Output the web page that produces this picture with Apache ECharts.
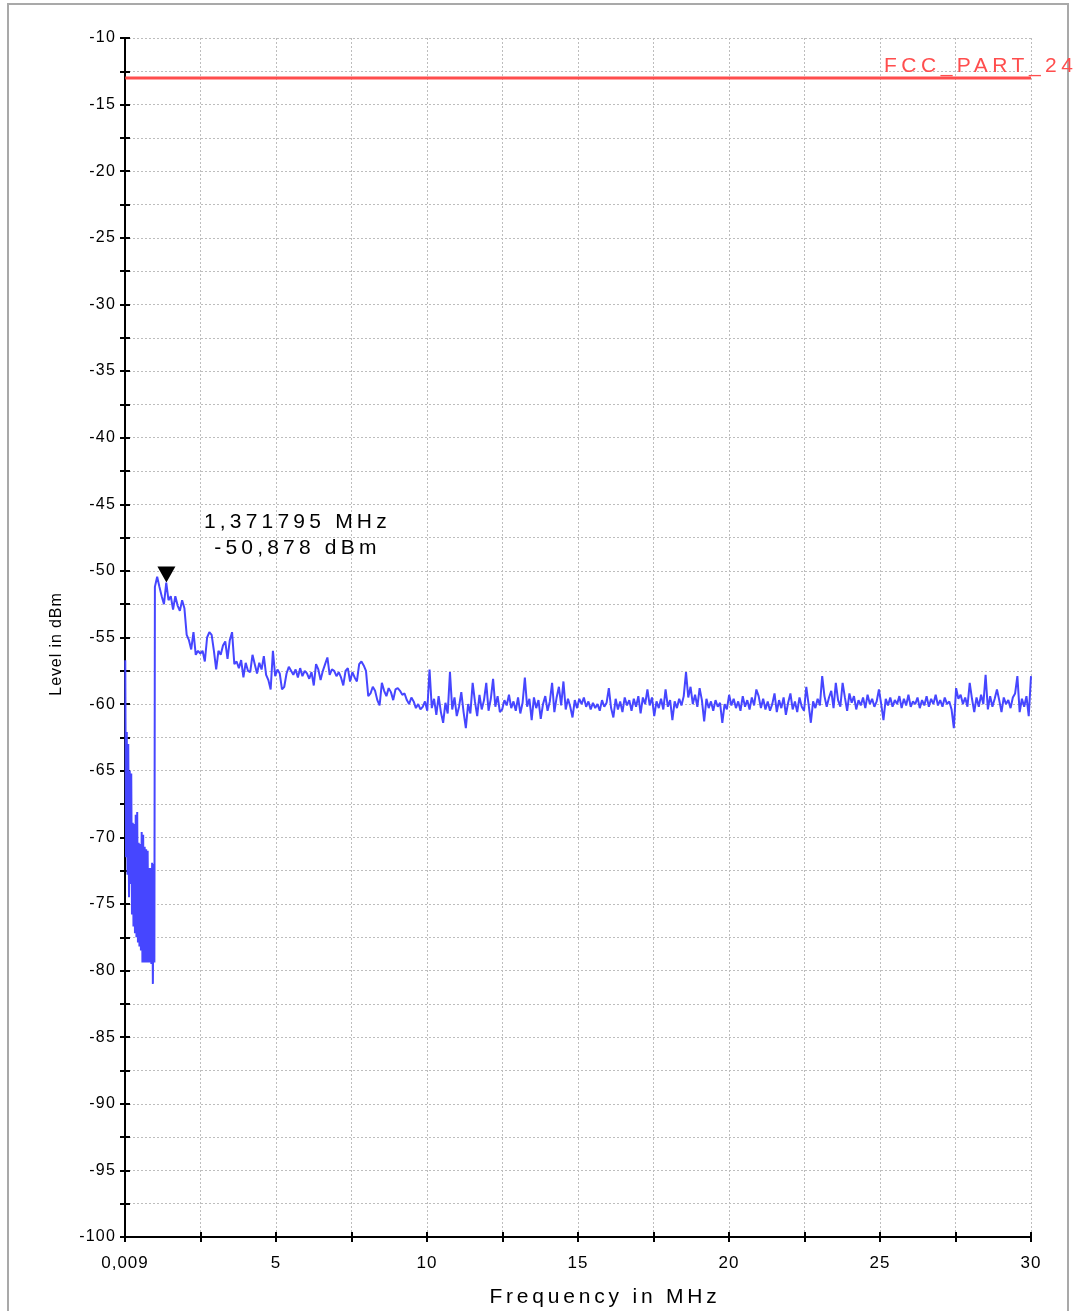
<!DOCTYPE html>
<html>
<head>
<meta charset="utf-8">
<script src="https://cdn.jsdelivr.net/npm/echarts@6/dist/echarts.min.js"></script>
<style>
html,body{margin:0;padding:0;background:#fff;}
#chart{width:1073px;height:1311px;}
</style>
</head>
<body>
<div id="chart"></div>
<script>
// ---------------- DATA ----------------
const X_MIN = 0, X_MAX = 30, X_INTERVAL = 2.5;
const Y_MIN = -100, Y_MAX = -10, Y_INTERVAL = 2.5;
const X_LABEL_VALUES = [0, 5, 10, 15, 20, 25, 30];
const X_TICK_LABELS = ['0,009', '5', '10', '15', '20', '25', '30'];
const X_TITLE = 'Frequency in MHz';
const Y_TITLE = 'Level in dBm';

const LIMIT_NAME = 'FCC_PART_24';
const LIMIT_LEVEL = -13;
const LIMIT_FREQS = [0.009, 30];

const MARKER_FREQ = 1.371795;   // MHz
const MARKER_LEVEL = -50.878;   // dBm

// sweep below 1 MHz (start, step in MHz)
const LOW_BAND_START = 0.009;
const LOW_BAND_STEP = 0.0247;
const LOW_BAND_LEVELS = [
  -56.7, -71.5, -62.1, -72.8, -63.0, -74.5, -65.0, -73.5, -65.2, -75.8,
  -68.9, -76.7, -69.0, -77.2, -68.3, -77.5, -68.1, -77.9, -70.4, -78.2,
  -70.5, -78.5, -69.6, -79.4, -69.8, -79.4, -70.7, -79.4, -70.9, -79.4,
  -71.0, -79.4, -72.3, -79.4, -72.3, -79.5, -71.9, -81.0, -72.0, -79.4
];

// sweep 0.99 .. 30 MHz (evenly spaced sweep points)
const MAIN_BAND_START = 0.99;
const MAIN_BAND_STOP = 30;
const MAIN_BAND_LEVELS = [
  -51.2, -50.44, -51.2, -51.9, -52.5, -50.88, -52.2, -51.9, -52.9, -51.9,
  -52.6, -53.0, -52.2, -52.8, -54.8, -55.2, -55.9, -54.6, -56.3, -56.0,
  -56.2, -56.0, -56.8, -55.0, -54.6, -54.8, -56.0, -57.4, -56.0, -56.3,
  -55.6, -55.3, -56.6, -55.2, -54.6, -57.0, -56.8, -57.3, -56.7, -58.0,
  -56.9, -57.5, -57.6, -56.3, -57.0, -57.7, -56.9, -57.4, -56.4, -57.8,
  -58.2, -58.9, -56.0, -57.9, -57.4, -57.7, -58.9, -58.7, -57.7, -57.2,
  -57.5, -57.8, -57.4, -58.0, -57.3, -57.9, -57.5, -57.7, -58.1, -57.6,
  -58.6, -57.0, -57.4, -58.2, -57.5, -57.0, -56.5, -57.8, -57.4, -57.5,
  -57.9, -57.6, -58.0, -58.6, -57.5, -57.3, -58.3, -57.6, -58.0, -58.3,
  -57.0, -56.8, -57.1, -57.5, -59.4, -59.2, -58.7, -59.0, -59.7, -60.1,
  -58.4, -59.0, -59.4, -58.8, -59.1, -59.7, -58.9, -58.8, -59.0, -59.3,
  -59.2, -59.7, -60.0, -59.5, -59.8, -60.3, -60.0, -60.4,
  -60.2, -59.8, -60.5, -57.4, -60.3, -59.6, -60.8, -59.4, -60.6, -61.4,
  -59.9, -60.7, -57.6, -60.4, -59.5, -60.9, -60.2, -59.1, -60.6, -61.8,
  -60.0, -60.7, -58.4, -59.8, -60.9, -59.3, -60.4, -59.7, -58.4, -60.5,
  -59.6, -58.1, -60.2, -59.4, -60.6, -60.4, -59.7, -60.1, -59.3, -60.3,
  -59.8, -60.5, -59.5, -60.7, -59.9, -58.0, -60.2, -59.6, -61.2, -59.5,
  -60.3, -59.7, -61.1, -60.0, -59.4, -60.5, -59.8, -58.4, -60.6, -59.5,
  -58.7, -60.1, -58.3, -60.4, -59.6, -60.2, -61.0, -59.7, -60.3, -59.6,
  -60.0, -59.5, -60.2, -59.8, -60.4, -59.9, -60.3, -60.0, -60.5, -59.7,
  -60.2, -59.9, -58.8, -60.3, -61.0, -59.6, -60.4, -59.8, -60.6, -59.5,
  -60.1, -59.7, -60.5, -59.6, -60.2, -59.4, -60.7, -59.5, -60.0, -58.9,
  -60.1, -59.5, -60.9, -59.8, -60.3, -59.6, -60.4, -58.9, -60.2, -59.7,
  -61.2, -59.8, -60.3, -59.6, -60.1, -59.4, -57.6, -59.5, -58.7, -60.0,
  -59.3, -60.2, -58.8, -59.7, -61.3, -59.6, -60.3, -59.8, -60.5, -59.7,
  -60.2, -59.9, -61.4, -60.0, -60.4, -59.3, -60.1, -59.6, -60.3, -59.8,
  -60.5, -59.4, -60.2, -59.7, -60.4, -59.5, -60.1, -58.9, -59.4, -60.3,
  -59.6, -60.4, -59.8, -60.5, -60.0, -59.2, -60.6, -59.7, -60.3, -59.5,
  -60.8, -59.9, -59.2, -60.4, -59.8, -60.6, -59.5, -60.2, -60.5, -58.7,
  -60.0, -61.4, -59.8, -60.3, -59.6, -60.1, -57.9, -59.4, -60.2, -59.5,
  -59.0, -60.3, -58.4, -59.7, -60.2, -58.4, -59.5, -60.5, -59.2, -59.9,
  -59.4, -60.4, -59.7, -60.1, -59.5, -60.3, -59.3, -60.0, -59.6, -60.2,
  -59.8, -58.9, -60.0, -61.2, -59.6, -60.1, -59.5, -60.2, -59.7, -60.0,
  -59.4, -60.3, -59.6, -60.1, -59.3, -60.2, -59.8, -60.0, -59.5, -60.3,
  -59.7, -60.1, -59.4, -60.2, -59.6, -60.0, -59.3, -60.1, -59.7, -60.2,
  -59.5, -60.0, -59.8, -60.4, -61.8, -58.8, -59.6, -59.3, -60.0, -59.5,
  -60.2, -58.4, -59.6, -60.6, -59.5, -60.2, -59.3, -60.0, -57.8, -60.4,
  -59.4, -60.2, -59.6, -58.9, -59.7, -60.6, -59.5, -60.0, -59.7, -60.3,
  -59.5, -59.2, -57.9, -60.6, -59.6, -60.2, -59.4, -60.9, -57.9
];

// ---------------- text letter spacing (canvas) ----------------
const SPACED_TEXT = {
  'FCC_PART_24': '4.5px',
  'Frequency in MHz': '3.8px',
  'Level in dBm': '0.9px'
};
function spacingFor(t) {
  if (typeof t !== 'string') return null;
  if (Object.prototype.hasOwnProperty.call(SPACED_TEXT, t)) return SPACED_TEXT[t];
  if (/ MHz$/.test(t) || / dBm$/.test(t)) return '4.2px';
  if (/^-\d+$/.test(t)) return '1.2px';
  if (/^[\d,]+$/.test(t)) return '1px';
  return null;
}
(function () {
  const P = CanvasRenderingContext2D.prototype;
  const origFill = P.fillText;
  P.fillText = function (t, x, y, m) {
    const ls = spacingFor(t);
    if (ls && 'letterSpacing' in this) {
      const prev = this.letterSpacing;
      this.letterSpacing = ls;
      if (m === undefined) origFill.call(this, t, x, y); else origFill.call(this, t, x, y, m);
      this.letterSpacing = prev;
    } else {
      if (m === undefined) origFill.call(this, t, x, y); else origFill.call(this, t, x, y, m);
    }
  };
})();

// ---------------- build series data ----------------
const traceData = [];
LOW_BAND_LEVELS.forEach((v, i) => traceData.push([LOW_BAND_START + i * LOW_BAND_STEP, v]));
const mainStep = (MAIN_BAND_STOP - MAIN_BAND_START) / (MAIN_BAND_LEVELS.length - 1);
MAIN_BAND_LEVELS.forEach((v, i) => traceData.push([MAIN_BAND_START + i * mainStep, v]));
const limitData = LIMIT_FREQS.map(f => [f, LIMIT_LEVEL]);

const FONT = '"Liberation Sans", Arial, Helvetica, sans-serif';
const GRID_LINE = { show: true, lineStyle: { color: '#bdbdbd', width: 1, type: [2, 2] } };
const AX_LINE = { show: true, onZero: false, lineStyle: { color: '#000', width: 2 } };
const TICK_STYLE = { color: '#000', width: 2 };

function xLabel(v) {
  const k = X_LABEL_VALUES.findIndex(a => Math.abs(a - v) < 1e-9);
  return k >= 0 ? X_TICK_LABELS[k] : '';
}
function yLabel(v) {
  return (Math.abs(v % 5) < 1e-9) ? String(v) : '';
}
const fmtComma = (n, d) => n.toFixed(d).replace('.', ',');

const chart = echarts.init(document.getElementById('chart'), null, { renderer: 'canvas' });
chart.setOption({
  animation: false,
  backgroundColor: '#ffffff',
  grid: { left: 125, right: 42, top: 38, bottom: 74, containLabel: false },
  xAxis: [
    {
      type: 'value', min: X_MIN, max: X_MAX, interval: X_INTERVAL, position: 'bottom',
      axisLine: AX_LINE,
      axisTick: { show: true, length: 5, lineStyle: TICK_STYLE },
      axisLabel: { show: true, formatter: xLabel, color: '#000', fontSize: 17, fontFamily: FONT, margin: 18, showMinLabel: true, showMaxLabel: true, hideOverlap: false },
      splitLine: GRID_LINE
    },
    {
      type: 'value', min: X_MIN, max: X_MAX, interval: X_INTERVAL, position: 'bottom',
      axisLine: { show: false },
      axisTick: { show: true, inside: true, length: 5, lineStyle: TICK_STYLE },
      axisLabel: { show: false }, splitLine: { show: false }
    }
  ],
  yAxis: [
    {
      type: 'value', min: Y_MIN, max: Y_MAX, interval: Y_INTERVAL, position: 'left',
      axisLine: AX_LINE,
      axisTick: { show: true, length: 5, lineStyle: TICK_STYLE },
      axisLabel: { show: true, formatter: yLabel, color: '#000', fontSize: 16, fontFamily: FONT, margin: 9, showMinLabel: true, showMaxLabel: true, hideOverlap: false },
      splitLine: GRID_LINE
    },
    {
      type: 'value', min: Y_MIN, max: Y_MAX, interval: Y_INTERVAL, position: 'left',
      axisLine: { show: false },
      axisTick: { show: true, inside: true, length: 5, lineStyle: TICK_STYLE },
      axisLabel: { show: false }, splitLine: { show: false }
    }
  ],
  graphic: [
    { type: 'rect', silent: true, z: 0, shape: { x: 8, y: 4, width: 1060, height: 1340 }, style: { fill: 'none', stroke: '#a9a9a9', lineWidth: 2 } },
    { type: 'text', silent: true, z: 10, x: 884, y: 66, style: { text: LIMIT_NAME, font: '21px ' + FONT, fill: '#ff4d4d', align: 'left', verticalAlign: 'middle' } },
    { type: 'text', silent: true, z: 10, x: 605, y: 1297, style: { text: X_TITLE, font: '21px ' + FONT, fill: '#000', align: 'center', verticalAlign: 'middle' } },
    { type: 'text', silent: true, z: 10, x: 57, y: 644, rotation: Math.PI / 2, style: { text: Y_TITLE, font: '16px ' + FONT, fill: '#000', align: 'center', verticalAlign: 'middle' } }
  ],
  series: [
    {
      name: LIMIT_NAME, type: 'line', data: limitData, xAxisIndex: 0, yAxisIndex: 0,
      showSymbol: false, symbol: 'none', z: 4,
      lineStyle: { color: '#ff4d4d', width: 3 }
    },
    {
      name: 'Level', type: 'line', data: traceData, xAxisIndex: 0, yAxisIndex: 0,
      showSymbol: false, symbol: 'none', z: 5,
      lineStyle: { color: '#4646ff', width: 2 },
      markPoint: {
        symbol: 'triangle', symbolRotate: 180, symbolSize: [18, 16], symbolOffset: [0, -8],
        itemStyle: { color: '#000' },
        label: {
          show: true, position: 'inside', offset: [131, -39],
          formatter: () => fmtComma(MARKER_FREQ, 6) + ' MHz\n' + fmtComma(MARKER_LEVEL, 3) + ' dBm',
          color: '#000', fontSize: 21, fontFamily: FONT, lineHeight: 26, align: 'center'
        },
        data: [{ coord: [MARKER_FREQ, MARKER_LEVEL] }]
      }
    }
  ]
});
</script>
</body>
</html>
